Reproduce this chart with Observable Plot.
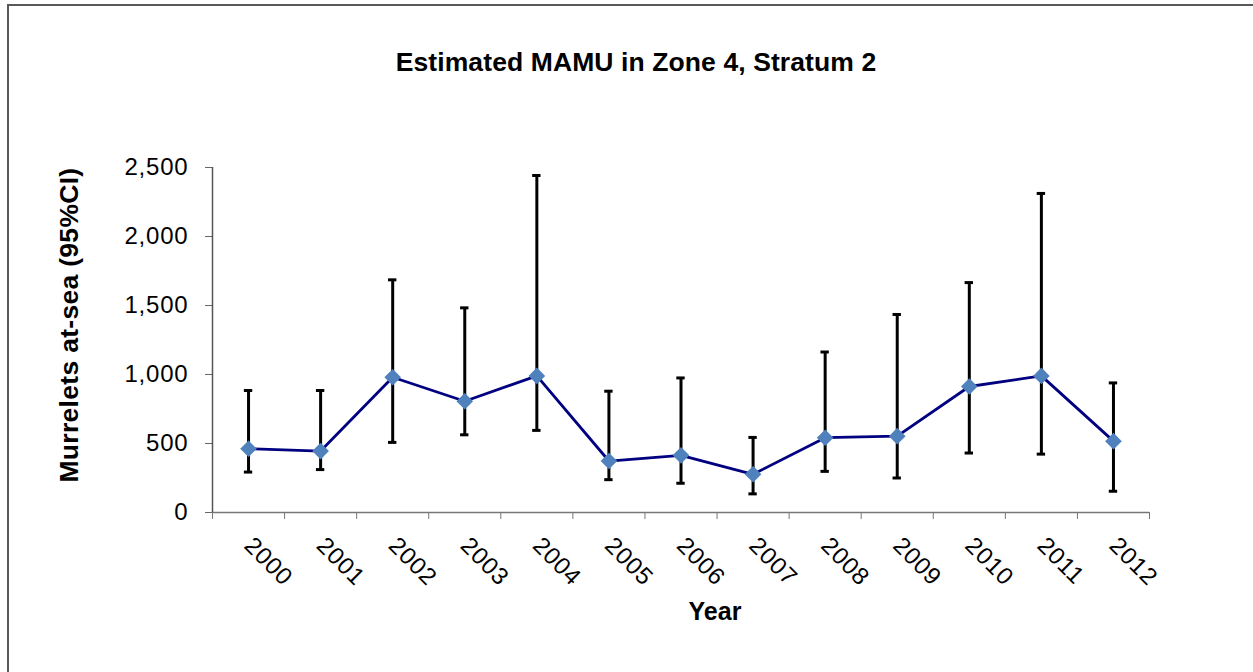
<!DOCTYPE html>
<html><head><meta charset="utf-8">
<script src="https://cdn.jsdelivr.net/npm/d3@7"></script>
<script src="https://cdn.jsdelivr.net/npm/@observablehq/plot@0.6"></script>
<style>
html,body{margin:0;padding:0;background:#fff;}
body{width:1253px;height:672px;position:relative;overflow:hidden;font-family:"Liberation Sans",Arial,sans-serif;}
#chart{position:absolute;left:0;top:0;}
#frame{position:absolute;left:7px;top:4px;width:1300px;height:700px;border-left:2px solid #595959;border-top:2px solid #595959;pointer-events:none;}
.lbl{position:absolute;font-weight:bold;white-space:nowrap;color:#000;}
#title{left:636px;top:49px;font-size:26.5px;line-height:27px;letter-spacing:0.1px;transform:translateX(-50%);}
#xlabel{left:715px;top:599px;font-size:25px;line-height:25px;transform:translateX(-50%);}
#ylabel{left:69px;top:325px;font-size:26.5px;line-height:26px;letter-spacing:0.3px;transform:translate(-50%,-50%) rotate(-90deg);}
</style></head><body>
<div id="chart"></div>
<div id="frame"></div>
<div id="title" class="lbl">Estimated MAMU in Zone 4, Stratum 2</div>
<div id="xlabel" class="lbl">Year</div>
<div id="ylabel" class="lbl">Murrelets at-sea (95%CI)</div>
<script>
const years = [2000, 2001, 2002, 2003, 2004, 2005, 2006, 2007, 2008, 2009, 2010, 2011, 2012];
const estimates = [462, 445, 980, 806, 990, 373, 414, 277, 542, 553, 913, 990, 517];
const lowerCI = [293, 311, 508, 563, 595, 238, 212, 135, 298, 250, 431, 423, 154];
const upperCI = [884, 884, 1686, 1483, 2442, 879, 975, 544, 1163, 1435, 1666, 2312, 939];
const yTicks = [0, 500, 1000, 1500, 2000, 2500];

const data = years.map((y, i) => ({year: y, pos: i + 0.5, est: estimates[i], lo: lowerCI[i], hi: upperCI[i]}));
const centers = data.map(d => d.pos);
const bounds = d3.range(years.length + 1);
const capHalf = 0.058;
const fmt = d3.format(",");

const chart = Plot.plot({
  width: 1253,
  height: 672,
  marginLeft: 212,
  marginRight: 104,
  marginTop: 167,
  marginBottom: 160,
  style: {background: "transparent", fontFamily: "'Liberation Sans', Arial, sans-serif", fontSize: "24px", letterSpacing: "0.8px", color: "#000"},
  x: {type: "linear", domain: [0, years.length], axis: null},
  y: {domain: [0, 2500], axis: null},
  marks: [
    Plot.axisY({ticks: yTicks, tickFormat: fmt, tickSize: 7, tickPadding: 17, label: null, stroke: "#666", fill: "#000", fontSize: 24}),
    Plot.axisX({ticks: bounds, tickFormat: () => "", tickSize: 7, label: null, stroke: "#777"}),
    Plot.axisX({ticks: centers, tickFormat: v => String(years[Math.round(v - 0.5)]), tickSize: 0, tickPadding: 29, tickRotate: 45, label: null, fill: "#000", fontSize: 24}),
    Plot.ruleY([0], {stroke: "#777", strokeWidth: 1.5}),
    Plot.ruleX([0], {stroke: "#555", strokeWidth: 1.5}),
    Plot.ruleX(data, {x: "pos", y1: "lo", y2: "hi", stroke: "#000", strokeWidth: 3}),
    Plot.ruleY(data, {y: "hi", x1: d => d.pos - capHalf, x2: d => d.pos + capHalf, stroke: "#000", strokeWidth: 3}),
    Plot.ruleY(data, {y: "lo", x1: d => d.pos - capHalf, x2: d => d.pos + capHalf, stroke: "#000", strokeWidth: 3}),
    Plot.line(data, {x: "pos", y: "est", stroke: "#000080", strokeWidth: 2.8}),
    Plot.dot(data, {x: "pos", y: "est", symbol: "diamond2", r: 7.5, fill: "#4F81BD", stroke: "none"})
  ]
});
document.getElementById("chart").appendChild(chart);
</script>
</body></html>
